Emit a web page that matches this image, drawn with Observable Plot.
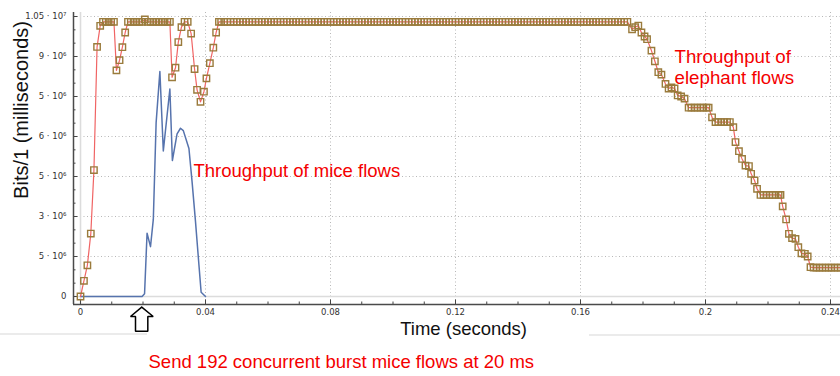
<!DOCTYPE html>
<html><head><meta charset="utf-8">
<script src="https://cdn.jsdelivr.net/npm/d3@7"></script>
<script src="https://cdn.jsdelivr.net/npm/@observablehq/plot@0.6"></script>
<style>
html,body{margin:0;padding:0;background:#fff;}
#wrap{position:relative;width:840px;height:376px;overflow:hidden;background:#fff;}
.art{position:absolute;height:2px;background:#ebebeb;}
</style></head><body>
<div id="wrap"></div>
<script>
// ---- data (time in ms, throughput in 10^6 bits per ms) ----
const elephantT = [
0,1.1,2.2,3.3,4.3,5.3,6.3,7.2,8.1,9.0,
9.8,10.7,11.5,12.5,13.4,14.3,15.2,16.1,17.0,17.9,
18.8,19.7,20.6,21.5,22.4,23.3,24.2,25.1,26.0,26.9,
27.8,28.6,29.3,30.4,31.3,32.3,33.3,34.3,35.4,36.5,
37.3,38.4,39.5,40.3,41.4,42.5,43.4,44.3,
45,46,47,48,49,50,51,52,53,54,
55,56,57,58,59,60,61,62,63,64,
65,66,67,68,69,70,71,72,73,74,
75,76,77,78,79,80,81,82,83,84,
85,86,87,88,89,90,91,92,93,94,
95,96,97,98,99,100,101,102,103,104,
105,106,107,108,109,110,111,112,113,114,
115,116,117,118,119,120,121,122,123,124,
125,126,127,128,129,130,131,132,133,134,
135,136,137,138,139,140,141,142,143,144,
145,146,147,148,149,150,151,152,153,154,
155,156,157,158,159,160,161,162,163,164,
165,166,167,168,169,170,171,172,173,174,
175,
176.5,177.5,178.5,179.5,180.5,181.3,182.7,183.8,184.9,185.9,
187.2,188.2,189.1,190.1,191.1,192.2,193.3,194.6,195.5,196.5,
197.4,198.4,199.3,200.3,201.0,202.1,203.2,204.1,205.0,206.0,
206.9,207.8,208.9,209.6,210.7,211.7,212.8,213.9,214.6,215.7,
216.5,217.6,218.6,219.5,220.5,221.4,222.4,223.4,224.0,224.7,
225.8,226.7,227.7,228.8,229.7,230.7,231.8,232.7,233.6,234.6,
235.5,236.5,237.4,238.4,239.4,240.3,241.3,242.2,243.2,244.2
];
const elephantV = [
0,0.59,1.17,2.36,4.74,9.36,10.15,10.3,10.3,10.3,
10.3,10.3,8.48,8.86,9.35,9.9,10.3,10.3,10.3,10.3,
10.3,10.3,10.39,10.3,10.3,10.3,10.3,10.3,10.3,10.3,
10.3,10.3,8.22,8.58,9.54,10.1,10.3,10.3,9.86,8.53,
7.75,7.3,7.68,8.18,8.75,9.33,9.9,10.3,
10.3,10.3,10.3,10.3,10.3,10.3,10.3,10.3,10.3,10.3,
10.3,10.3,10.3,10.3,10.3,10.3,10.3,10.3,10.3,10.3,
10.3,10.3,10.3,10.3,10.3,10.3,10.3,10.3,10.3,10.3,
10.3,10.3,10.3,10.3,10.3,10.3,10.3,10.3,10.3,10.3,
10.3,10.3,10.3,10.3,10.3,10.3,10.3,10.3,10.3,10.3,
10.3,10.3,10.3,10.3,10.3,10.3,10.3,10.3,10.3,10.3,
10.3,10.3,10.3,10.3,10.3,10.3,10.3,10.3,10.3,10.3,
10.3,10.3,10.3,10.3,10.3,10.3,10.3,10.3,10.3,10.3,
10.3,10.3,10.3,10.3,10.3,10.3,10.3,10.3,10.3,10.3,
10.3,10.3,10.3,10.3,10.3,10.3,10.3,10.3,10.3,10.3,
10.3,10.3,10.3,10.3,10.3,10.3,10.3,10.3,10.3,10.3,
10.3,10.3,10.3,10.3,10.3,10.3,10.3,10.3,10.3,10.3,
10.3,10.3,10.3,10.3,10.3,10.3,10.3,10.3,10.3,10.3,
10.3,
10.02,10.1,10.16,9.9,9.75,9.65,9.22,8.82,8.41,8.32,
7.97,7.8,7.84,7.8,7.54,7.5,7.42,7.08,7.08,7.08,
7.08,7.08,7.08,7.08,7.08,6.72,6.54,6.54,6.54,6.54,
6.54,6.54,6.35,5.79,5.45,5.16,4.91,4.89,4.6,4.35,
4.04,3.81,3.81,3.81,3.81,3.81,3.81,3.81,3.81,3.38,
2.89,2.35,2.19,2.16,1.85,1.62,1.6,1.5,1.1,1.08,
1.08,1.08,1.08,1.08,1.08,1.08,1.08,1.08,1.08,1.08
];
const miceT = [0,19.7,20.5,21.3,22.4,23.3,24.2,25.4,26.5,28.6,29.4,30.9,32.0,32.9,34.7,35.7,36.8,37.9,38.6,40.0];
const miceV = [0,0,0.1,2.37,1.87,2.89,6.52,8.44,5.46,7.78,5.1,6.1,6.31,6.22,5.55,4.31,2.81,1.18,0.16,0];

const xTicks = [0,0.04,0.08,0.12,0.16,0.2,0.24];
const xTickLabels = ["0","0.04","0.08","0.12","0.16","0.2","0.24"];
const xMinorTicks = [0,0.01,0.02,0.03,0.04,0.05,0.06,0.07,0.08,0.09,0.1,0.11,0.12,0.13,0.14,0.15,0.16,0.17,0.18,0.19,0.2,0.21,0.22,0.23,0.24];
const yTicks = [0,1.5,3,4.5,6,7.5,9,10.5];
const yTickLabels = ["0","5 · 10⁶","3 · 10⁶","5 · 10⁶","6 · 10⁶","5 · 10⁶","9 · 10⁶","1.05 · 10⁷"];
const yMinorTicks = [0,0.5,1,1.5,2,2.5,3,3.5,4,4.5,5,5.5,6,6.5,7,7.5,8,8.5,9,9.5,10,10.5];

const elephant = elephantT.map((t, i) => ({t: t / 1000, v: elephantV[i]}));
const mice = miceT.map((t, i) => ({t: t / 1000, v: miceV[i]}));
const xLab = xTicks.map((v, i) => ({v, s: xTickLabels[i]}));
const yLab = yTicks.map((v, i) => ({v, s: yTickLabels[i]}));

const X0 = -0.00224, X1 = 0.2432, Y0 = -0.3, Y1 = 10.65;
const innerW = 840 - 73, innerH = 376 - 12 - 72;
const arrow = [[0.0196,-0.40],[0.02326,-0.75],[0.02154,-0.75],[0.02154,-1.30],[0.0176,-1.30],[0.0176,-0.75],[0.016,-0.75],[0.0196,-0.40]];
const red = "#f40000";
const sans = "Liberation Sans, Arial, sans-serif";

const chart = Plot.plot({
  width: 840, height: 376,
  marginLeft: 73, marginRight: 0, marginTop: 12, marginBottom: 72,
  x: {domain: [X0, X1], axis: null},
  y: {domain: [Y0, Y1], axis: null},
  style: {background: "white", fontFamily: sans},
  marks: [
    Plot.ruleY(yTicks.slice(1), {stroke: "#b8b8b8", strokeOpacity: 1, strokeDasharray: "1,2.5"}),
    Plot.ruleX(xTicks.slice(1), {stroke: "#b8b8b8", strokeOpacity: 1, strokeDasharray: "1,2.5"}),
    Plot.ruleY([0], {stroke: "#dcdcdc", strokeWidth: 1.6}),
    Plot.ruleX([0], {stroke: "#dcdcdc", strokeWidth: 1.6}),
    Plot.ruleX(xMinorTicks, {x: d => d, insetTop: innerH - 2.5, stroke: "#444"}),
    Plot.ruleX(xTicks, {x: d => d, insetTop: innerH - 4.5, stroke: "#444"}),
    Plot.ruleY(yMinorTicks, {y: d => d, insetRight: innerW - 2.5, stroke: "#444"}),
    Plot.ruleY(yTicks, {y: d => d, insetRight: innerW - 4.5, stroke: "#444"}),
    Plot.ruleX([X0], {stroke: "#4a4a4a", strokeWidth: 1.5}),
    Plot.ruleY([Y0], {stroke: "#4a4a4a", strokeWidth: 1.5}),
    Plot.text(yLab, {frameAnchor: "left", y: "v", text: "s", textAnchor: "end", dx: -7, fontSize: 8.5, fontFamily: "DejaVu Sans", fill: "#333"}),
    Plot.text(xLab, {frameAnchor: "bottom", x: "v", text: "s", lineAnchor: "top", dy: 4, fontSize: 8.5, fontFamily: "DejaVu Sans", fill: "#333", letterSpacing: 0.6}),
    Plot.line(mice, {x: "t", y: "v", stroke: "#5673ad", strokeWidth: 1.5}),
    Plot.line(elephant, {x: "t", y: "v", stroke: "#f06464", strokeWidth: 1.2}),
    Plot.dot(elephant, {x: "t", y: "v", symbol: "square", r: 3.6, stroke: "#9a7b3c", strokeWidth: 1.4, fill: "none"}),
    Plot.text([{s: "Bits/1 (milliseconds)", v: 3.66}], {frameAnchor: "left", y: "v", text: "s", rotate: -90, dx: -52, fontSize: 20, fill: "#111", fontFamily: sans}),
    Plot.text([{s: "Time (seconds)", t: 0.1226, v: -1.24}], {x: "t", y: "v", text: "s", fontSize: 18.5, fill: "#111", fontFamily: sans}),
    Plot.text([{s: "Send 192 concurrent burst mice flows at 20 ms", t: 0.02176, v: -2.47}], {x: "t", y: "v", text: "s", textAnchor: "start", fontSize: 18.5, fill: red, fontFamily: sans}),
    Plot.text([{s: "Throughput of mice flows", t: 0.03616, v: 4.71}], {x: "t", y: "v", text: "s", textAnchor: "start", fontSize: 18.5, fill: red, fontFamily: sans}),
    Plot.text([{s: "Throughput of\nelephant flows", t: 0.1901, v: 9.33}], {x: "t", y: "v", text: "s", textAnchor: "start", lineAnchor: "top", lineHeight: 1.12, fontSize: 18.7, fill: red, fontFamily: sans}),
    Plot.line(arrow, {x: d => d[0], y: d => d[1], fill: "white", stroke: "black", strokeWidth: 1.5, strokeLinejoin: "miter"})
  ]
});
const wrap = document.getElementById("wrap");
wrap.appendChild(chart);
const a1 = document.createElement("div"); a1.className = "art"; a1.style.cssText = "left:0;top:333px;width:147px;";
const a2 = document.createElement("div"); a2.className = "art"; a2.style.cssText = "left:589px;top:334px;width:251px;";
wrap.appendChild(a1); wrap.appendChild(a2);
</script>
</body></html>
